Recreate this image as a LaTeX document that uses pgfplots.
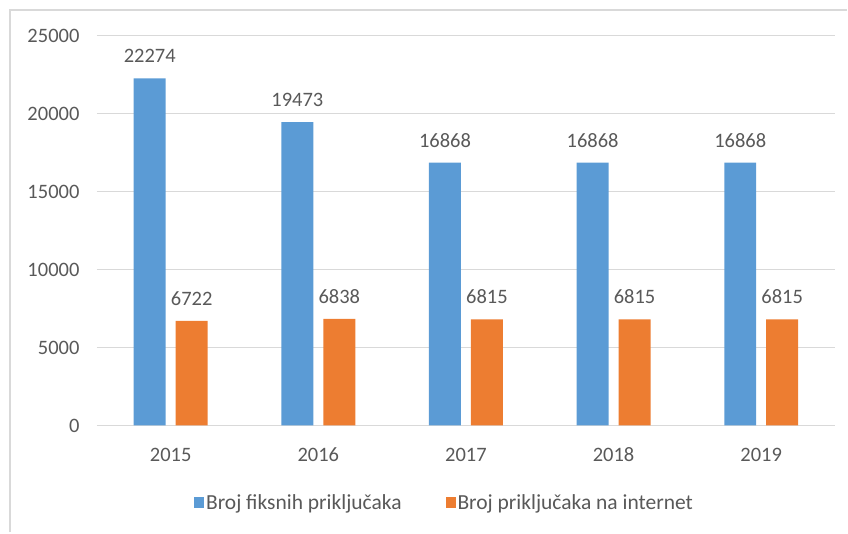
\documentclass[border=0pt]{standalone}
\usepackage{pgfplots}
\pgfplotsset{compat=1.18}
\usepackage{fontspec}
\setmainfont{Carlito}
\definecolor{cblue}{HTML}{5B9BD5}
\definecolor{corange}{HTML}{ED7D31}
\definecolor{ctext}{HTML}{595959}
\definecolor{cgrid}{HTML}{D9D9D9}
\begin{document}
\begin{tikzpicture}
\begin{axis}[
  scale only axis,
  width=739bp, height=390bp,
  xmin=-0.5, xmax=4.5,
  ymin=0, ymax=25000,
  ytick={0,5000,10000,15000,20000,25000},
  scaled y ticks=false,
  xtick=data,
  xticklabels={2015,2016,2017,2018,2019},
  ybar=10bp,
  bar width=32bp,
  axis x line*=bottom,
  axis y line*=left,
  x axis line style={draw=cgrid, line width=1bp, -},
  y axis line style={draw=none},
  ymajorgrids,
  grid style={cgrid, line width=1bp},
  major tick length=0pt,
  tick style={draw=none},
  /pgf/number format/assume math mode=true,
  /pgf/number format/1000 sep={},
  ticklabel style={font=\fontsize{20.5bp}{24bp}\selectfont, text=ctext},
  xticklabel style={yshift=-19bp},
  yticklabel style={xshift=-14bp},
  nodes near coords,
  nodes near coords style={font=\fontsize{20.5bp}{24bp}\selectfont, text=ctext, yshift=12bp,
    /pgf/number format/1000 sep={}, /pgf/number format/assume math mode=true},
  legend columns=2,
  legend style={draw=none, at={(348bp,-77bp)}, anchor=center,
    font=\fontsize{21.5bp}{24bp}\selectfont, text=ctext,
    /tikz/every even column/.append style={column sep=42bp}},
  legend image code/.code={\fill[#1] (0bp,-5.5bp) rectangle (10bp,5.5bp);},
  clip=false,
]
\addplot[fill=cblue, draw=none] coordinates {(0,22274) (1,19473) (2,16868) (3,16868) (4,16868)};
\addplot[fill=corange, draw=none] coordinates {(0,6722) (1,6838) (2,6815) (3,6815) (4,6815)};
\legend{Broj fiksnih priključaka, Broj priključaka na internet}
\end{axis}
\draw[cgrid, line width=2bp] (-87bp,-107bp) -- (-87bp,416bp) -- (751bp,416bp);
\useasboundingbox (-97bp,-107bp) rectangle (751bp,426bp);
\end{tikzpicture}
\end{document}
